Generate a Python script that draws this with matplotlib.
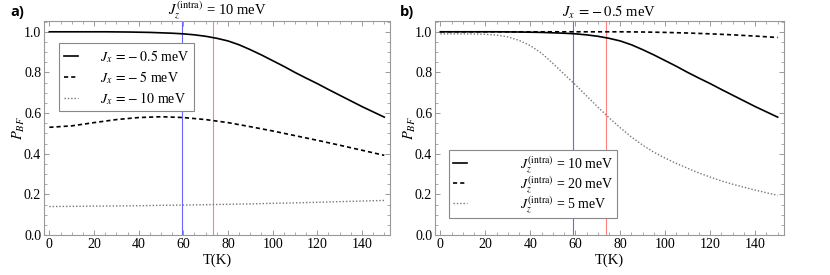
import numpy as np
import matplotlib
matplotlib.use("Agg")
import matplotlib.pyplot as plt
from matplotlib.ticker import MultipleLocator

# ===============================
# データ
# ===============================
T5 = list(range(0, 155, 5))
T10 = list(range(0, 160, 10))

# Jz(intra)=10 meV, Jx=-0.5 meV（a, b 共通の実線）
p_jz10_jx05 = [1.0, 1.0, 1.0, 1.0, 1.0, 1.0, 0.9995, 0.999, 0.998, 0.997, 0.995,
               0.993, 0.990, 0.985, 0.978, 0.968, 0.955, 0.936, 0.912, 0.886, 0.858,
               0.830, 0.800, 0.772, 0.745, 0.716, 0.688, 0.660, 0.632, 0.606, 0.580]
# a) Jx = -5, -10 meV
p_jx5 = [0.530, 0.537, 0.553, 0.568, 0.578, 0.582, 0.578, 0.568, 0.553, 0.533,
         0.512, 0.489, 0.466, 0.442, 0.417, 0.392]
p_jx10 = [0.140, 0.141, 0.142, 0.143, 0.144, 0.146, 0.147, 0.149, 0.151, 0.153,
          0.156, 0.158, 0.161, 0.164, 0.167, 0.170]
# b) Jz(intra) = 20, 5 meV
p_jz20 = [1.0, 1.0, 1.0, 1.0, 1.0, 1.0, 1.0, 1.0, 1.0, 0.999, 0.997, 0.994,
          0.990, 0.985, 0.979, 0.972]
p_jz5 = [0.990, 0.990, 0.990, 0.989, 0.988, 0.984, 0.975, 0.958, 0.932, 0.895,
         0.845, 0.792, 0.740, 0.685, 0.630, 0.577, 0.528, 0.482, 0.442, 0.407,
         0.378, 0.352, 0.328, 0.305, 0.285, 0.266, 0.250, 0.235, 0.221, 0.208, 0.195]

T_blue = 59.2
T_red = 73.5

labels_a = [r"$J_x\;=-\;0.5$ meV", r"$J_x\;=-\;5$ meV", r"$J_x\;=-\;10$ meV"]
labels_b = [r"$J_z^{(\mathrm{intra})}$ = 10 meV", r"$J_z^{(\mathrm{intra})}$ = 20 meV",
            r"$J_z^{(\mathrm{intra})}$ = 5 meV"]
title_a = r"$J_z^{(\mathrm{intra})}$ = 10 meV"
title_b = r"$J_x\;=-\;0.5$ meV"

# ===============================
# スタイル
# ===============================
SERIF = ["Liberation Serif", "DejaVu Serif"]
plt.rcParams["font.family"] = SERIF
plt.rcParams["mathtext.fontset"] = "stix"

SOLID = dict(color="black", lw=1.2, ls="-")
DASH = dict(color="black", lw=1.2, ls=(0, (2.5, 1.8)))
DOT = dict(color="#777777", lw=1.0, ls=(0, (1, 1.4)))

fig = plt.figure(figsize=(8.3, 2.75), dpi=100)
ax_a = fig.add_axes([0.053, 0.1455, 0.417, 0.7795])
ax_b = fig.add_axes([0.524, 0.1455, 0.420, 0.7795])


def style_axes(ax, title):
    ax.set_xlim(-2.4, 152.6)
    ax.set_ylim(0, 1.055)
    ax.xaxis.set_major_locator(MultipleLocator(20))
    ax.xaxis.set_minor_locator(MultipleLocator(5))
    ax.yaxis.set_major_locator(MultipleLocator(0.2))
    ax.yaxis.set_minor_locator(MultipleLocator(0.05))
    ax.yaxis.set_major_formatter(lambda v, p: f"{v:.1f}")
    ax.tick_params(which="both", direction="in", top=True, right=True,
                   color="#888888", labelsize=10, pad=2,
                   labelfontfamily="Liberation Serif")
    ax.tick_params(which="major", length=3.5, width=0.6)
    ax.tick_params(which="minor", length=2, width=0.5)
    for s in ax.spines.values():
        s.set_color("#999999")
        s.set_linewidth(0.8)
    ax.set_xlabel("T(K)", fontsize=10.5, labelpad=2)
    ax.set_ylabel(r"$P_{BF}$", fontsize=10.5, labelpad=-2)
    ax.set_title(title, fontsize=10.5, pad=2)
    ax.axvline(T_blue, color="#6666ff", lw=0.8)
    ax.axvline(T_red, color="#ff8080", lw=0.8)


# ===============================
# a)
# ===============================
style_axes(ax_a, title_a)
ax_a.plot(T5, p_jz10_jx05, label=labels_a[0], **SOLID)
ax_a.plot(T10, p_jx5, label=labels_a[1], **DASH)
ax_a.plot(T10, p_jx10, label=labels_a[2], **DOT)
leg = ax_a.legend(loc="upper left", bbox_to_anchor=(0.043, 0.896), fontsize=10,
                  handlelength=1.0, handletextpad=1.6, fancybox=False,
                  edgecolor="#888888", framealpha=1, borderpad=0.35,
                  labelspacing=0.3, borderaxespad=0)
leg.get_frame().set_linewidth(0.8)

# ===============================
# b)
# ===============================
style_axes(ax_b, title_b)
ax_b.plot(T5, p_jz10_jx05, label=labels_b[0], **SOLID)
ax_b.plot(T10, p_jz20, label=labels_b[1], **DASH)
ax_b.plot(T5, p_jz5, label=labels_b[2], **DOT)
leg = ax_b.legend(loc="lower left", bbox_to_anchor=(0.04, 0.079), fontsize=10,
                  handlelength=1.0, handletextpad=3.8, fancybox=False,
                  edgecolor="#888888", framealpha=1, borderpad=0.3,
                  labelspacing=0.0, borderaxespad=0)
leg.get_frame().set_linewidth(0.8)

fig.text(0.012, 0.955, "a)", fontsize=10.5, fontweight="bold",
         family=["Open Sans", "DejaVu Sans"], va="center")
fig.text(0.482, 0.955, "b)", fontsize=10.5, fontweight="bold",
         family=["Open Sans", "DejaVu Sans"], va="center")

fig.savefig("out.png", dpi=100)
